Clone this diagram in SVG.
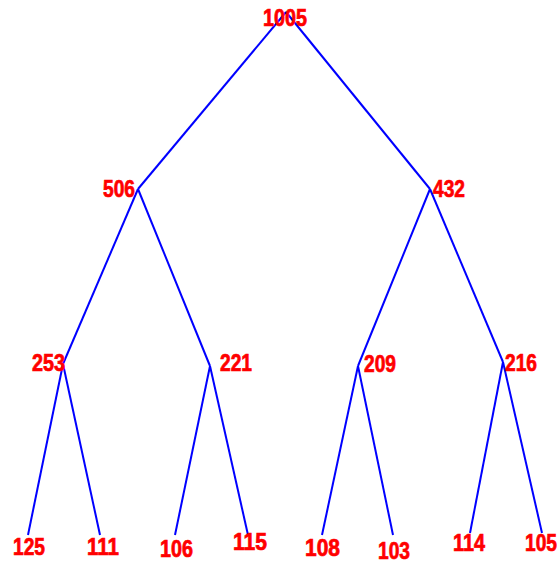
<svg xmlns="http://www.w3.org/2000/svg" width="558" height="563" viewBox="0 0 558 563">
<style>
.e{stroke:#0000FF;stroke-width:2;fill:none}
.t{fill:#FF0000;stroke:#FF0000;stroke-width:0.7;font-family:"Liberation Sans",Arial,sans-serif;font-weight:bold;font-size:23px}
</style>
<rect width="558" height="563" fill="#FFFFFF"/>
<g id="connectors">
<line class="e" x1="286" y1="12" x2="138" y2="189"/>
<line class="e" x1="286" y1="12" x2="430" y2="189"/>
<line class="e" x1="138" y1="189" x2="63" y2="364"/>
<line class="e" x1="138" y1="189" x2="210" y2="366"/>
<line class="e" x1="430" y1="189" x2="358" y2="366"/>
<line class="e" x1="430" y1="189" x2="503" y2="362"/>
<line class="e" x1="63" y1="364" x2="28" y2="535"/>
<line class="e" x1="63" y1="364" x2="100" y2="535"/>
<line class="e" x1="210" y1="366" x2="175" y2="535"/>
<line class="e" x1="210" y1="366" x2="248" y2="535"/>
<line class="e" x1="358" y1="366" x2="322" y2="535"/>
<line class="e" x1="358" y1="366" x2="393" y2="535"/>
<line class="e" x1="503" y1="362" x2="470" y2="533"/>
<line class="e" x1="503" y1="362" x2="542" y2="533"/>
</g>
<g id="n1005"><text class="t" x="263" y="26" textLength="44" lengthAdjust="spacingAndGlyphs">1005</text></g>
<g id="n506"><text class="t" x="103" y="197" textLength="32" lengthAdjust="spacingAndGlyphs">506</text></g>
<g id="n432"><text class="t" x="433" y="197" textLength="32" lengthAdjust="spacingAndGlyphs">432</text></g>
<g id="n253"><text class="t" x="32" y="371" textLength="33" lengthAdjust="spacingAndGlyphs">253</text></g>
<g id="n221"><text class="t" x="220" y="371" textLength="32" lengthAdjust="spacingAndGlyphs">221</text></g>
<g id="n209"><text class="t" x="364" y="372" textLength="32" lengthAdjust="spacingAndGlyphs">209</text></g>
<g id="n216"><text class="t" x="505" y="371" textLength="32" lengthAdjust="spacingAndGlyphs">216</text></g>
<g id="n125"><text class="t" x="13" y="555" textLength="32" lengthAdjust="spacingAndGlyphs">125</text></g>
<g id="n111"><text class="t" x="87" y="555" textLength="32" lengthAdjust="spacingAndGlyphs">111</text></g>
<g id="n106"><text class="t" x="160" y="557" textLength="33" lengthAdjust="spacingAndGlyphs">106</text></g>
<g id="n115"><text class="t" x="233" y="550" textLength="34" lengthAdjust="spacingAndGlyphs">115</text></g>
<g id="n108"><text class="t" x="305" y="556" textLength="35" lengthAdjust="spacingAndGlyphs">108</text></g>
<g id="n103"><text class="t" x="378" y="559" textLength="32" lengthAdjust="spacingAndGlyphs">103</text></g>
<g id="n114"><text class="t" x="453" y="551" textLength="32" lengthAdjust="spacingAndGlyphs">114</text></g>
<g id="n105"><text class="t" x="525" y="551" textLength="32" lengthAdjust="spacingAndGlyphs">105</text></g>
</svg>
